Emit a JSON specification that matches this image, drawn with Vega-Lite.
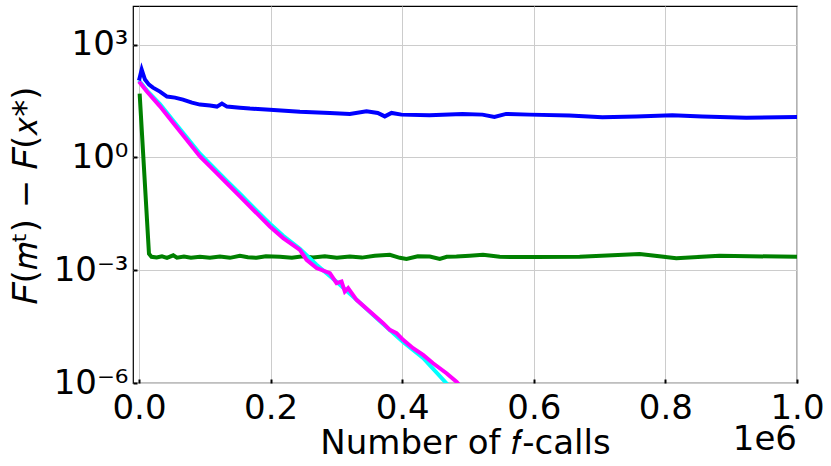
{
  "$schema": "https://vega.github.io/schema/vega-lite/v6.json",
  "width": 664,
  "height": 377,
  "autosize": {"type": "none"},
  "padding": {"left": 133, "top": 6, "right": 34, "bottom": 83},
  "background": "white",
  "config": {
    "font": "DejaVu Sans",
    "view": {"stroke": "black", "strokeWidth": 1.2},
    "axis": {
      "domain": false,
      "grid": true,
      "gridColor": "#cccccc",
      "gridWidth": 1,
      "ticks": true,
      "tickSize": -4,
      "tickWidth": 2,
      "tickColor": "black",
      "labelFontSize": 34,
      "labelColor": "black",
      "labelFont": "DejaVu Sans",
      "labelOverlap": false,
      "labelFlush": false,
      "labelBound": false,
      "titleFontSize": 34,
      "titleFont": "DejaVu Sans",
      "titleFontWeight": "normal",
      "titleColor": "black"
    }
  },
  "title": {
    "text": "1e6",
    "orient": "bottom",
    "anchor": "end",
    "frame": "group",
    "fontSize": 34,
    "font": "DejaVu Sans",
    "fontWeight": "normal",
    "color": "black",
    "offset": -37
  },
  "data": {
    "values": [
      {"series": "green", "x": 1000, "y": 49.6},
      {"series": "green", "x": 15186, "y": 0.00273},
      {"series": "green", "x": 18983, "y": 0.00227},
      {"series": "green", "x": 26880, "y": 0.00217},
      {"series": "green", "x": 34928, "y": 0.00234},
      {"series": "green", "x": 42521, "y": 0.00213},
      {"series": "green", "x": 52088, "y": 0.00249},
      {"series": "green", "x": 57707, "y": 0.00216},
      {"series": "green", "x": 68337, "y": 0.0023},
      {"series": "green", "x": 78967, "y": 0.00213},
      {"series": "green", "x": 92635, "y": 0.00227},
      {"series": "green", "x": 107821, "y": 0.00213},
      {"series": "green", "x": 123007, "y": 0.0023},
      {"series": "green", "x": 138193, "y": 0.00213},
      {"series": "green", "x": 153379, "y": 0.00241},
      {"series": "green", "x": 165528, "y": 0.0022},
      {"series": "green", "x": 178741, "y": 0.00213},
      {"series": "green", "x": 192862, "y": 0.00234},
      {"series": "green", "x": 214122, "y": 0.00227},
      {"series": "green", "x": 232345, "y": 0.00213},
      {"series": "green", "x": 249050, "y": 0.00234},
      {"series": "green", "x": 264236, "y": 0.00217},
      {"series": "green", "x": 282459, "y": 0.00234},
      {"series": "green", "x": 300683, "y": 0.00213},
      {"series": "green", "x": 320425, "y": 0.00231},
      {"series": "green", "x": 338648, "y": 0.00216},
      {"series": "green", "x": 358390, "y": 0.00241},
      {"series": "green", "x": 381170, "y": 0.00256},
      {"series": "green", "x": 396356, "y": 0.00213},
      {"series": "green", "x": 406530, "y": 0.002},
      {"series": "green", "x": 423689, "y": 0.00234},
      {"series": "green", "x": 441912, "y": 0.00231},
      {"series": "green", "x": 457098, "y": 0.002},
      {"series": "green", "x": 467728, "y": 0.00227},
      {"series": "green", "x": 482458, "y": 0.00231},
      {"series": "green", "x": 502657, "y": 0.00241},
      {"series": "green", "x": 522854, "y": 0.00256},
      {"series": "green", "x": 548214, "y": 0.00227},
      {"series": "green", "x": 573574, "y": 0.00223},
      {"series": "green", "x": 603946, "y": 0.00223},
      {"series": "green", "x": 669703, "y": 0.00227},
      {"series": "green", "x": 760820, "y": 0.00268},
      {"series": "green", "x": 816551, "y": 0.00209},
      {"series": "green", "x": 882367, "y": 0.00241},
      {"series": "green", "x": 1000000, "y": 0.00227},

      {"series": "cyan", "x": 0, "y": 110},
      {"series": "cyan", "x": 12150, "y": 59.6},
      {"series": "cyan", "x": 31890, "y": 26.1},
      {"series": "cyan", "x": 52090, "y": 9.48},
      {"series": "cyan", "x": 72440, "y": 3.45},
      {"series": "cyan", "x": 92640, "y": 1.25},
      {"series": "cyan", "x": 112830, "y": 0.548},
      {"series": "cyan", "x": 133180, "y": 0.239},
      {"series": "cyan", "x": 153380, "y": 0.108},
      {"series": "cyan", "x": 173580, "y": 0.0472},
      {"series": "cyan", "x": 198940, "y": 0.01715},
      {"series": "cyan", "x": 219140, "y": 0.00822},
      {"series": "cyan", "x": 244500, "y": 0.00371},
      {"series": "cyan", "x": 269860, "y": 0.00139},
      {"series": "cyan", "x": 300230, "y": 0.00049},
      {"series": "cyan", "x": 330600, "y": 0.000163},
      {"series": "cyan", "x": 371000, "y": 0.0000373},
      {"series": "cyan", "x": 401370, "y": 0.0000124},
      {"series": "cyan", "x": 431740, "y": 0.00000465},
      {"series": "cyan", "x": 467270, "y": 0.000000984},
      {"series": "cyan", "x": 472280, "y": 0.000000785},

      {"series": "magenta", "x": 0, "y": 103.5},
      {"series": "magenta", "x": 11690, "y": 57.1},
      {"series": "magenta", "x": 31890, "y": 22.8},
      {"series": "magenta", "x": 52090, "y": 8.22},
      {"series": "magenta", "x": 72440, "y": 2.96},
      {"series": "magenta", "x": 92640, "y": 1.06},
      {"series": "magenta", "x": 112830, "y": 0.47},
      {"series": "magenta", "x": 133180, "y": 0.208},
      {"series": "magenta", "x": 153380, "y": 0.0914},
      {"series": "magenta", "x": 173580, "y": 0.0405},
      {"series": "magenta", "x": 198940, "y": 0.01452},
      {"series": "magenta", "x": 219140, "y": 0.00714},
      {"series": "magenta", "x": 244500, "y": 0.00348},
      {"series": "magenta", "x": 254670, "y": 0.00189},
      {"series": "magenta", "x": 269860, "y": 0.001135},
      {"series": "magenta", "x": 290050, "y": 0.000836},
      {"series": "magenta", "x": 300230, "y": 0.000452},
      {"series": "magenta", "x": 307820, "y": 0.000499},
      {"series": "magenta", "x": 312840, "y": 0.00027},
      {"series": "magenta", "x": 317850, "y": 0.000333},
      {"series": "magenta", "x": 330600, "y": 0.0001626},
      {"series": "magenta", "x": 350800, "y": 0.0000793},
      {"series": "magenta", "x": 371000, "y": 0.0000389},
      {"series": "magenta", "x": 381170, "y": 0.0000258},
      {"series": "magenta", "x": 391340, "y": 0.0000211},
      {"series": "magenta", "x": 401370, "y": 0.000014},
      {"series": "magenta", "x": 416550, "y": 0.00000841},
      {"series": "magenta", "x": 431740, "y": 0.00000558},
      {"series": "magenta", "x": 446930, "y": 0.00000335},
      {"series": "magenta", "x": 467270, "y": 0.00000182},
      {"series": "magenta", "x": 482460, "y": 0.00000108},
      {"series": "magenta", "x": 490510, "y": 0.00000074},

      {"series": "blue", "x": 0, "y": 110},
      {"series": "blue", "x": 2278, "y": 159},
      {"series": "blue", "x": 4100, "y": 216},
      {"series": "blue", "x": 6074, "y": 169},
      {"series": "blue", "x": 9111, "y": 117},
      {"series": "blue", "x": 15186, "y": 86},
      {"series": "blue", "x": 21260, "y": 71.6},
      {"series": "blue", "x": 31891, "y": 56.1},
      {"series": "blue", "x": 42521, "y": 41.3},
      {"series": "blue", "x": 54670, "y": 38.8},
      {"series": "blue", "x": 66818, "y": 34.4},
      {"series": "blue", "x": 80486, "y": 28.6},
      {"series": "blue", "x": 92635, "y": 25.3},
      {"series": "blue", "x": 107821, "y": 23.8},
      {"series": "blue", "x": 118451, "y": 22.4},
      {"series": "blue", "x": 126044, "y": 26.9},
      {"series": "blue", "x": 133637, "y": 22.4},
      {"series": "blue", "x": 153379, "y": 21.0},
      {"series": "blue", "x": 168565, "y": 19.8},
      {"series": "blue", "x": 198937, "y": 18.6},
      {"series": "blue", "x": 244495, "y": 16.4},
      {"series": "blue", "x": 290053, "y": 15.2},
      {"series": "blue", "x": 320425, "y": 14.3},
      {"series": "blue", "x": 345786, "y": 16.7},
      {"series": "blue", "x": 362947, "y": 15.2},
      {"series": "blue", "x": 373577, "y": 12.3},
      {"series": "blue", "x": 383752, "y": 15.2},
      {"series": "blue", "x": 398938, "y": 13.7},
      {"series": "blue", "x": 441458, "y": 13.1},
      {"series": "blue", "x": 491572, "y": 14.3},
      {"series": "blue", "x": 521944, "y": 13.7},
      {"series": "blue", "x": 540167, "y": 11.9},
      {"series": "blue", "x": 557935, "y": 14.3},
      {"series": "blue", "x": 593349, "y": 13.7},
      {"series": "blue", "x": 654093, "y": 12.9},
      {"series": "blue", "x": 704206, "y": 11.6},
      {"series": "blue", "x": 755838, "y": 12.3},
      {"series": "blue", "x": 810508, "y": 13.1},
      {"series": "blue", "x": 856066, "y": 12.3},
      {"series": "blue", "x": 922884, "y": 11.4},
      {"series": "blue", "x": 1000000, "y": 11.9}
    ]
  },
  "encoding": {
    "x": {
      "field": "x",
      "type": "quantitative",
      "scale": {"domain": [-9100, 1000000], "nice": false, "zero": false},
      "axis": {
        "values": [0, 200000, 400000, 600000, 800000, 1000000],
        "labelExpr": "format(datum.value / 1000000, '.1f')",
        "labelPadding": 12,
        "title": "Number of 𝑓-calls",
        "titlePadding": 1
      }
    },
    "y": {
      "field": "y",
      "type": "quantitative",
      "scale": {"type": "log", "domain": [0.000001, 10600], "nice": false},
      "axis": {
        "values": [0.000001, 0.001, 1, 1000],
        "labelExpr": "datum.value >= 999 ? '10³' : datum.value >= 0.9 ? '10⁰' : datum.value >= 0.0009 ? '10⁻³' : '10⁻⁶'",
        "labelPadding": 9,
        "title": "𝐹(𝑚ᵗ) − 𝐹(𝑥*)",
        "titlePadding": 10
      }
    },
    "color": {
      "field": "series",
      "type": "nominal",
      "scale": {
        "domain": ["blue", "green", "cyan", "magenta"],
        "range": ["#0000ff", "#008000", "#00ffff", "#ff00ff"]
      },
      "legend": null
    }
  },
  "layer": [
    {"transform": [{"filter": "datum.series === 'green'"}], "mark": {"type": "line", "strokeWidth": 4, "clip": true}},
    {"transform": [{"filter": "datum.series === 'cyan'"}], "mark": {"type": "line", "strokeWidth": 4, "clip": true}},
    {"transform": [{"filter": "datum.series === 'magenta'"}], "mark": {"type": "line", "strokeWidth": 4, "clip": true}},
    {"transform": [{"filter": "datum.series === 'blue'"}], "mark": {"type": "line", "strokeWidth": 4, "clip": true}}
  ]
}
